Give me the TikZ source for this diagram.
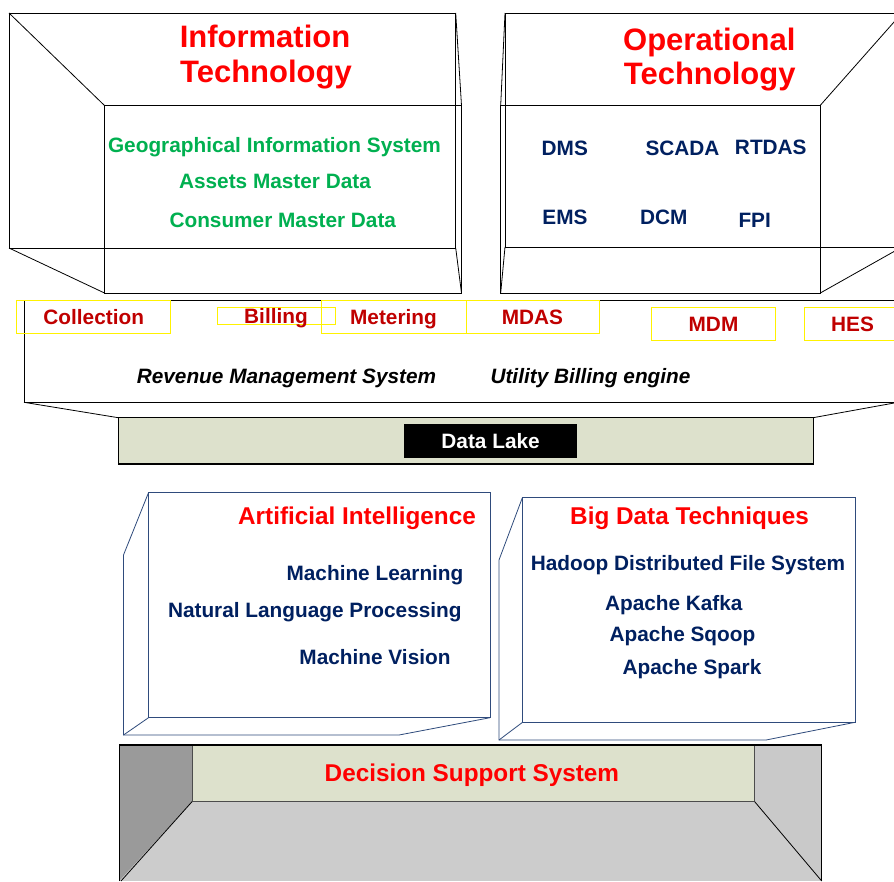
\documentclass[tikz,border=0pt]{standalone}
\usepackage{fontspec}
\setmainfont{Liberation Sans}

\definecolor{headred}{RGB}{255,0,0}
\definecolor{itgreen}{RGB}{0,176,80}
\definecolor{navy}{RGB}{0,32,96}
\definecolor{labred}{RGB}{192,0,0}
\definecolor{sage}{RGB}{221,225,204}
\definecolor{boxblue}{RGB}{47,75,124}
\definecolor{wallgray}{RGB}{154,154,154}
\definecolor{lightwall}{RGB}{201,201,201}
\definecolor{floorgray}{RGB}{204,204,204}

\tikzset{
  frame/.style={draw=black, line width=0.8pt},
  bluebox/.style={draw=boxblue, line width=0.8pt},
  bigtitle/.style={anchor=base, inner sep=0pt, text=headred,
    font=\fontsize{31}{36}\selectfont\bfseries},
  sectitle/.style={anchor=base, inner sep=0pt, text=headred,
    font=\fontsize{24.3}{28}\selectfont\bfseries},
  ititem/.style={anchor=base, inner sep=0pt, text=itgreen,
    font=\fontsize{20.8}{24}\selectfont\bfseries},
  navyitem/.style={anchor=base, inner sep=0pt, text=navy,
    font=\fontsize{20.8}{24}\selectfont\bfseries},
  blackitem/.style={anchor=base, inner sep=0pt, text=black,
    font=\fontsize{20.8}{24}\selectfont\bfseries\itshape},
  tag/.style={draw=yellow, line width=1pt, inner sep=0pt, text=labred,
    font=\fontsize{20.8}{24}\selectfont\bfseries,
    text height=15pt, text depth=0pt},
}

\begin{document}
\begin{tikzpicture}[x=1pt, y=-1pt]
\useasboundingbox (0,0) rectangle (894,881);
\clip (0,0) rectangle (894,881);
\fill[white] (0,0) rectangle (894,881);

% ---- Information Technology wireframe box
\coordinate (itb1) at (9,13);     \coordinate (itb2) at (455.7,13);
\coordinate (itb3) at (455.7,248); \coordinate (itb4) at (9,248);
\coordinate (itf1) at (104.5,105.5); \coordinate (itf2) at (461.5,105.5);
\coordinate (itf3) at (461.5,293);   \coordinate (itf4) at (104.5,293);
\draw[frame] (itb1) -- (itb2) -- (itb3) -- (itb4) -- cycle;
\draw[frame] (itf1) -- (itf2) -- (itf3) -- (itf4) -- cycle;
\draw[frame] (itb1) -- (itf1) (itb2) -- (itf2) (itb3) -- (itf3) (itb4) -- (itf4);

\node[bigtitle] (it1) at (265,47.7) {Information};
\node[bigtitle] (it2) at (266,82.7) {Technology};
\node[ititem] (gis) at (274.5,152.7) {Geographical Information System};
\node[ititem] (amd) at (275,188.7) {Assets Master Data};
\node[ititem] (cmd) at (282.8,227.7) {Consumer Master Data};

% ---- Operational Technology wireframe box
\coordinate (otb1) at (505,13);   \coordinate (otb2) at (902,13);
\coordinate (otb3) at (902,247);  \coordinate (otb4) at (505,247);
\coordinate (otf1) at (500.7,105.3); \coordinate (otf2) at (820.3,105.3);
\coordinate (otf3) at (820.3,293);   \coordinate (otf4) at (500.7,293);
\draw[frame] (otb1) -- (otb2) -- (otb3) -- (otb4) -- cycle;
\draw[frame] (otf1) -- (otf2) -- (otf3) -- (otf4) -- cycle;
\draw[frame] (otb1) -- (otf1) (otb2) -- (otf2) (otb3) -- (otf3) (otb4) -- (otf4);

\node[bigtitle] (ot1) at (709.3,50) {Operational};
\node[bigtitle] (ot2) at (709.7,84) {Technology};
\node[navyitem] (dms) at (564.8,155.3) {DMS};
\node[navyitem] (scada) at (682.5,155.3) {SCADA};
\node[navyitem] (rtdas) at (770.8,154) {RTDAS};
\node[navyitem] (ems) at (565,224) {EMS};
\node[navyitem] (dcm) at (663.7,224) {DCM};
\node[navyitem] (fpi) at (754.7,227.3) {FPI};

% ---- Revenue band with its taper onto the data lake
\draw[frame, fill=white] (24,300.3) rectangle (910,402.3);
\draw[frame] (24,402.3) -- (118.3,417.7);
\draw[frame] (898,402.3) -- (813,417.7);

\node[tag, minimum width=154pt, minimum height=33pt] (coll) at (93.7,316.8) {Collection};
\node[tag, minimum width=145pt, minimum height=33pt] (meter) at (393.5,316.8) {Metering};
\node[tag, minimum width=118pt, minimum height=17pt] (bill) at (276,315.5) {Billing};
\node[tag, minimum width=133pt, minimum height=33pt] (mdas) at (532.5,316.8) {MDAS};
\node[tag, minimum width=124pt, minimum height=33pt] (mdm) at (713.5,323.7) {MDM};
\node[tag, minimum width=97pt, minimum height=33pt] (hes) at (852.5,323.7) {HES};

\node[blackitem] (rms) at (286.5,383.3) {Revenue Management System};
\node[blackitem] (ube) at (590.5,383.3) {Utility Billing engine};

% ---- Data lake band
\draw[frame, fill=sage] (118.3,417.7) rectangle (813,464);
\draw[black, line width=1.6pt] (118.3,464) -- (813,464);
\node[fill=black, text=white, inner sep=0pt, minimum width=173pt, minimum height=33.5pt,
  font=\fontsize{20.8}{24}\selectfont\bfseries, text height=15pt, text depth=0pt]
  (lake) at (490.6,440.8) {Data Lake};

% ---- Artificial Intelligence box
\coordinate (aif1) at (148.5,492.7); \coordinate (aif2) at (490,492.7);
\coordinate (aif3) at (490,717.7);   \coordinate (aif4) at (148.5,717.7);
\coordinate (ais1) at (123.5,555);   \coordinate (ais2) at (123.5,735);
\coordinate (ais3) at (399,735);
\draw[bluebox, fill=white] (aif1) -- (aif2) -- (aif3) -- (aif4) -- cycle;
\draw[bluebox] (aif1) -- (ais1) -- (ais2) -- (ais3) -- (aif3);
\draw[bluebox] (ais2) -- (aif4);

\node[sectitle] (ai) at (357,524.3) {Artificial Intelligence};
\node[navyitem] (ml) at (375,580.7) {Machine Learning};
\node[navyitem] (nlp) at (314.8,617.3) {Natural Language Processing};
\node[navyitem] (mv) at (375,664.3) {Machine Vision};

% ---- Big Data Techniques box
\coordinate (bdf1) at (522.5,497.3); \coordinate (bdf2) at (855,497.3);
\coordinate (bdf3) at (855,722.3);   \coordinate (bdf4) at (522.5,722.3);
\coordinate (bds1) at (499,560);     \coordinate (bds2) at (499,740);
\coordinate (bds3) at (766,740);
\draw[bluebox, fill=white] (bdf1) -- (bdf2) -- (bdf3) -- (bdf4) -- cycle;
\draw[bluebox] (bdf1) -- (bds1) -- (bds2) -- (bds3) -- (bdf3);
\draw[bluebox] (bds2) -- (bdf4);

\node[sectitle] (bd) at (689.5,524.3) {Big Data Techniques};
\node[navyitem] (hdfs) at (688,570.7) {Hadoop Distributed File System};
\node[navyitem] (kafka) at (673.8,610.7) {Apache Kafka};
\node[navyitem] (sqoop) at (682.5,641.7) {Apache Sqoop};
\node[navyitem] (spark) at (692,674) {Apache Spark};

% ---- Decision Support System room
\coordinate (dso1) at (119,745);   \coordinate (dso2) at (821.7,745);
\coordinate (dso3) at (821.7,881); \coordinate (dso4) at (119,881);
\coordinate (dsi1) at (192,745);   \coordinate (dsi2) at (754.7,745);
\coordinate (dsi3) at (754.7,801.7); \coordinate (dsi4) at (192,801.7);
\fill[floorgray] (dso1) rectangle (dso3);
\fill[wallgray] (dso1) -- (dsi1) -- (dsi4) -- (dso4) -- cycle;
\fill[lightwall] (dsi2) -- (dso2) -- (dso3) -- (dsi3) -- cycle;
\draw[draw=black!70, line width=0.7pt, fill=sage] (dsi1) rectangle (dsi3);
\draw[frame] (dsi4) -- (121,881) (dsi3) -- (dso3);
\draw[frame] (dso4) -- (dso1) (dso2) -- (dso3);
\draw[black, line width=1.8pt] (dso1) -- (dso2);
\node[sectitle] (dss) at (471.9,781) {Decision Support System};
\end{tikzpicture}
\end{document}
